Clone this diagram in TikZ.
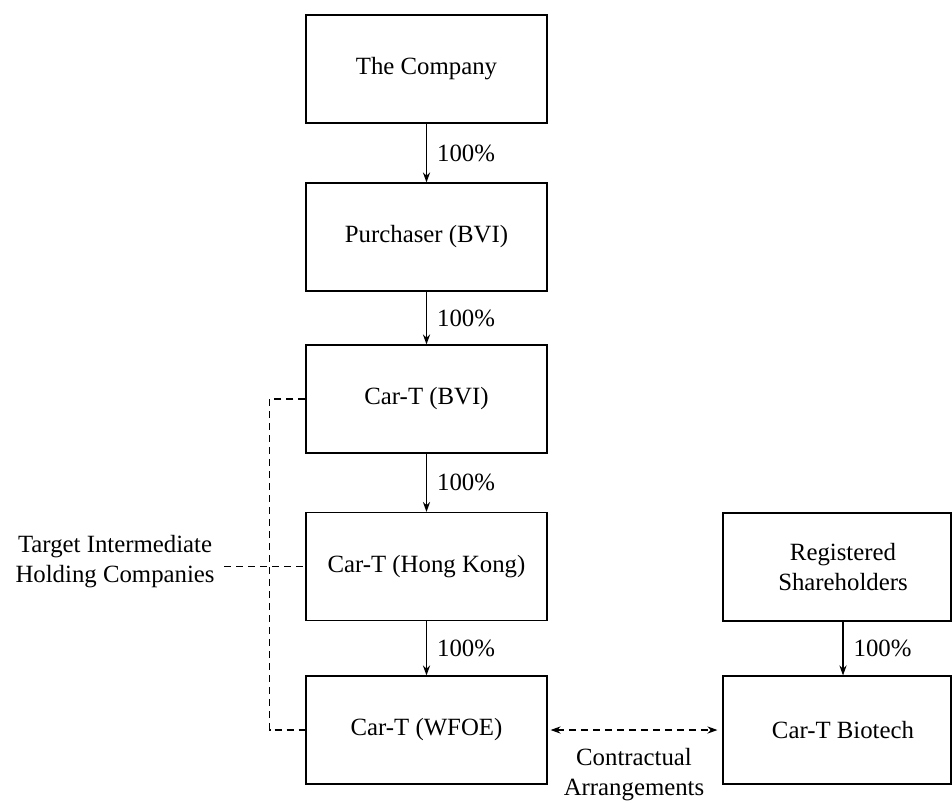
\documentclass[tikz,border=0pt]{standalone}
\usepackage{fontspec}
\setmainfont{LiberationSerif}[Extension=.ttf, UprightFont=*-Regular, BoldFont=*-Bold, ItalicFont=*-Italic]
\usetikzlibrary{arrows.meta}
\begin{document}
\begin{tikzpicture}[x=0.5pt,y=-0.5pt,
  every node/.style={font=\fontsize{12.4}{15}\selectfont, inner sep=0pt, align=center},
  box/.style={draw, line width=0.6pt, minimum width=120.5pt, minimum height=54pt},
  plain/.style={draw=none, minimum width=120pt, minimum height=54pt},
  arr/.style={line width=0.6pt, -{Stealth[length=5pt,width=3.6pt]}},
  dsh/.style={line width=0.6pt, dash pattern=on 3.5pt off 2.5pt},
  darr/.style={dsh, {Stealth[length=5pt,width=3.6pt]}-{Stealth[length=5pt,width=3.6pt]}},
  pct/.style={anchor=west, xshift=5pt}]
\useasboundingbox (0,0) rectangle (952,810);
\node[box] (comp) at (426.5,69) {The Company};
\node[box] (purch) at (426.5,237) {Purchaser (BVI)};
\node[box] (bvi) at (426.5,399) {Car-T (BVI)};
\node[box] (hk) at (426.5,566.5) {Car-T (Hong Kong)};
\node[box] (wfoe) at (426.5,730) {Car-T (WFOE)};
\node[box, minimum width=114pt] (regbox) at (837,567) {};
\node[plain] (reg) at (843,567) {Registered\\Shareholders};
\node[box, minimum width=114pt] (biobox) at (837,730) {};
\node[plain] (bio) at (843,730) {Car-T Biotech};
\draw[arr] (comp) -- node[pct] {100\%} (purch);
\draw[arr] (purch) -- node[pct] {100\%} (bvi);
\draw[arr] (bvi) -- node[pct] {100\%} (hk);
\draw[arr] (hk) -- node[pct] {100\%} (wfoe);
\draw[arr] (regbox.south -| reg) -- node[pct] {100\%} (biobox.north -| reg);
\coordinate (bx) at (269.5,0);
\draw[dsh] (bvi.west) -- (bvi.west -| bx) -- (wfoe.west -| bx) -- (wfoe.west);
\node[anchor=east] (tih) at (215,562) {Target Intermediate\\Holding Companies};
\draw[dsh] (tih.east |- hk.west) ++(9,0) -- (hk.west);
\draw[darr] ([xshift=1.5pt]wfoe.east) -- node[below=9pt] (ca) {Contractual\\Arrangements} ([xshift=-2.5pt]biobox.west);
\end{tikzpicture}
\end{document}
